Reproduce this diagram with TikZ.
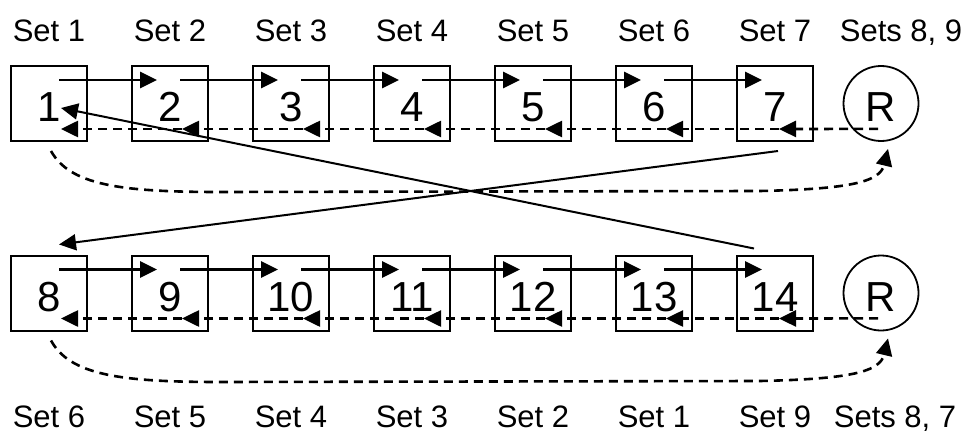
\documentclass[tikz,border=0pt]{standalone}
\usepackage{fontspec}
\setmainfont{Liberation Sans}
\usetikzlibrary{arrows.meta,calc}
\begin{document}
\begin{tikzpicture}[x=1pt,y=-1pt,
  box/.style={draw, line width=2pt, minimum width=76pt, minimum height=75pt, inner sep=0pt,
    font=\fontsize{42}{42}\selectfont, text height=36pt, text depth=0pt},
  ring/.style={draw, circle, line width=1.8pt, minimum size=75pt, inner sep=0pt,
    font=\fontsize{42}{42}\selectfont, text height=36pt, text depth=0pt},
  lab/.style={anchor=base, font=\fontsize{31}{31}\selectfont, inner sep=0pt},
  tipb/.style={-{Triangle[length=17pt,width=16pt]}},
  fwd/.style={line width=2.8pt, tipb},
  back/.style={line width=2.6pt, dash pattern=on 9pt off 6pt, tipb},
  diag/.style={line width=2pt, tipb},
]
\useasboundingbox (0,0) rectangle (968,433);
% boxes
\foreach \i in {1,...,7} \node[box] (b\i) at ({49+121*(\i-1)},103.5) {\i};
\node[ring] (r1) at (881,103.5) {R};
\foreach \i [evaluate=\i as \n using int(\i+7)] in {1,...,7}
  \node[box] (c\i) at ({49+121*(\i-1)},293) {\n};
\node[ring] (r2) at (881,293) {R};
% forward arrows
\foreach \i [evaluate=\i as \j using int(\i+1)] in {1,...,6} {
  \draw[fwd] ([shift={(49,15)}]b\i.north west) -- ([shift={(26,15)}]b\j.north west);
  \draw[fwd] ([shift={(49,15)}]c\i.north west) -- ([shift={(26,15)}]c\j.north west);
}
% backward dashed arrows
\draw[back] ([shift={(-3,-13)}]r1.south) -- ([shift={(43,-13)}]b7.south west);
\draw[back] ([shift={(-3,-13)}]r2.south) -- ([shift={(43,-13)}]c7.south west);
\draw[back] ([shift={(43,-13)}]b7.south west) -- ([shift={(51,-13)}]b6.south west);
\draw[back] ([shift={(43,-13)}]c7.south west) -- ([shift={(51,-13)}]c6.south west);
\foreach \i [evaluate=\i as \j using int(\i+1)] in {1,...,5} {
  \draw[back] ([shift={(51,-13)}]b\j.south west) -- ([shift={(51,-13)}]b\i.south west);
  \draw[back] ([shift={(51,-13)}]c\j.south west) -- ([shift={(51,-13)}]c\i.south west);
}
% diagonals
\draw[diag] ([shift={(42,9)}]b7.south west) -- ([shift={(49,-10)}]c1.north west);
\draw[diag] ([shift={(18,-6)}]c7.north west) -- ([shift={(51,43)}]b1.north west);
% curved dashed arrows
\draw[back] ([shift={(41,9)}]b1.south west) .. controls (70,185) and (120,192) .. (220,192)
  -- (760,191) .. controls (850,189) and (880,182) .. ([shift={(7,7)}]r1.south);
\draw[back] ([shift={(41,9)}]c1.south west) .. controls (70,375) and (120,382) .. (220,382)
  -- (760,381) .. controls (850,379) and (880,372) .. ([shift={(7,7)}]r2.south);
% labels
\foreach \t [count=\k] in {Set 1,Set 2,Set 3,Set 4,Set 5,Set 6,Set 7}
  \node[lab] (t\k) at ({49+121*(\k-1)},42) {\t};
\node[lab] (t8) at (901,42) {Sets 8, 9};
\foreach \t [count=\k] in {Set 6,Set 5,Set 4,Set 3,Set 2,Set 1,Set 9}
  \node[lab] (u\k) at ({49+121*(\k-1)},427) {\t};
\node[lab] (u8) at (895,427) {Sets 8, 7};
\end{tikzpicture}
\end{document}
